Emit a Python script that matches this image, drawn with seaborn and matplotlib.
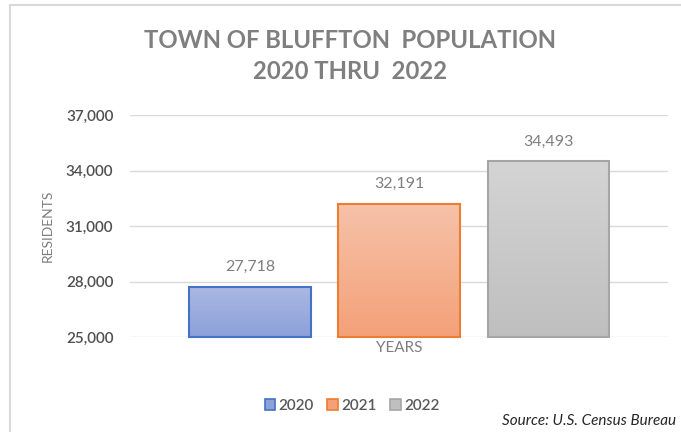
import numpy as np
import pandas as pd
import matplotlib
matplotlib.use('Agg')
import matplotlib.pyplot as plt
import seaborn as sns
from matplotlib.patches import Patch, Rectangle
from matplotlib.colors import LinearSegmentedColormap

# data
years = ['2020', '2021', '2022']
residents = [27718, 32191, 34493]
y_ticks = [25000, 28000, 31000, 34000, 37000]

edge_cols = ['#4472c4', '#ed7d31', '#a5a5a5']
top_cols = ['#aab8e3', '#f6c2a9', '#d4d4d4']
bot_cols = ['#8ca1d9', '#f4a179', '#bfbfbf']

df = pd.DataFrame({'year': years, 'residents': residents})

sns.set_style('white')
plt.rcParams['font.family'] = ['Lato', 'DejaVu Sans']

fig = plt.figure(figsize=(6.81, 4.32), dpi=100)
ax = fig.add_axes([130 / 681, 1 - 337 / 432, 538 / 681, 222 / 432])

sns.barplot(data=df, x='year', y='residents', hue='year', palette=top_cols,
            width=0.816, legend=False, ax=ax)

# gradient fill + outline
for i, p in enumerate(ax.patches):
    x0 = p.get_x()
    w = p.get_width()
    p.set_y(y_ticks[0])
    p.set_height(residents[i] - y_ticks[0])
    p.set_facecolor('none')
    p.set_edgecolor(edge_cols[i])
    p.set_linewidth(1.5)
    p.set_clip_on(False)
    p.set_zorder(3)
    cmap = LinearSegmentedColormap.from_list('g', [bot_cols[i], top_cols[i]])
    grad = np.linspace(0, 1, 100).reshape(-1, 1)
    im = ax.imshow(grad, cmap=cmap, aspect='auto', origin='lower',
                   extent=[x0, x0 + w, y_ticks[0], residents[i]], zorder=2)
    im.set_clip_path(p)

for i, v in enumerate(residents):
    ax.text(i, v + 700, f'{v:,}', ha='center', va='bottom',
            fontsize=11.5, color='#7f7f7f')

ax.set_xlim(-0.803, 2.80)
ax.set_ylim(25000, 37000)
ax.set_yticks(y_ticks)
ax.set_yticklabels([f'{t:,}' for t in y_ticks], fontsize=11, color='#505050',
                   fontweight='semibold')
ax.set_xticks([])
ax.tick_params(axis='y', length=0, pad=12)
ax.grid(axis='y', color='#d9d9d9', linewidth=1)
ax.set_axisbelow(True)
sns.despine(ax=ax, left=True, bottom=True)

ax.set_ylabel('RESIDENTS', fontsize=10, color='#7f7f7f', labelpad=9)
ax.set_xlabel('YEARS', fontsize=11, color='#7f7f7f', labelpad=3)

fig.text(350 / 681, 1 - 56 / 432, 'TOWN OF BLUFFTON  POPULATION\n2020 THRU  2022',
         ha='center', va='center', fontsize=17.2, fontweight='bold',
         color='#7f7f7f', linespacing=1.45)

handles = [Patch(facecolor=bot_cols[i], edgecolor=edge_cols[i], linewidth=1.2)
           for i in range(3)]
leg = fig.legend(handles, years, loc='center', bbox_to_anchor=(352 / 681, 1 - 406 / 432),
                 ncol=3, frameon=False, fontsize=11, handlelength=0.7, handleheight=0.7,
                 handletextpad=0.2, columnspacing=0.9, labelcolor='#595959')
for t in leg.get_texts():
    t.set_fontweight('semibold')

fig.text(676 / 681, 1 - 421 / 432, 'Source: U.S. Census Bureau', ha='right',
         va='center', fontsize=11, style='italic', color='#262626')

fig.patches.append(Rectangle((9.5 / 681, -0.1), 1.0, 1 - 5 / 432 + 0.1,
                             transform=fig.transFigure, fill=False,
                             edgecolor='#d9d9d9', linewidth=1.5))

fig.savefig('out.png', dpi=100)
